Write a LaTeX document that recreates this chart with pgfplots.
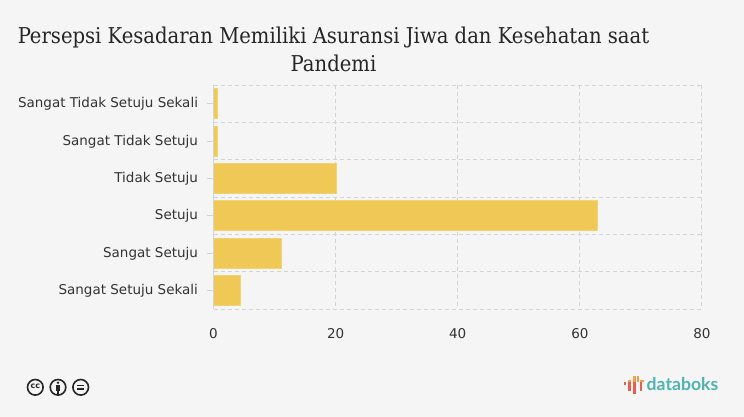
\documentclass[border=0pt]{standalone}
\usepackage{fontspec}
\usepackage{pgfplots}
\pgfplotsset{compat=1.18}
\setmainfont{DejaVu Sans}
\newfontfamily\titlefont{DejaVu Serif Condensed}
\newfontfamily\logofont{Lato}
\definecolor{bgc}{HTML}{F5F5F5}
\definecolor{barc}{HTML}{F0C855}
\definecolor{gridc}{HTML}{D4D4D4}
\definecolor{txtc}{HTML}{333333}
\definecolor{teal}{HTML}{4FB3AE}
\definecolor{logored}{HTML}{E5604F}
\definecolor{logoorg}{HTML}{F0A050}
\begin{document}
\begin{tikzpicture}[x=1pt,y=1pt]
\path[use as bounding box,fill=bgc] (0,0) rectangle (744,417);
\begin{axis}[
  at={(213.5pt,108pt)},anchor=south west,
  scale only axis,
  width=488.5pt,height=224pt,
  xmin=0,xmax=80,
  ymin=-0.5,ymax=5.5,
  y dir=reverse,
  xtick={0,20,40,60,80},
  ytick={0,1,2,3,4,5},
  yticklabels={Sangat Tidak Setuju Sekali,Sangat Tidak Setuju,Tidak Setuju,Setuju,Sangat Setuju,Sangat Setuju Sekali},
  minor ytick={-0.5,0.5,1.5,2.5,3.5,4.5,5.5},
  xmajorgrids,yminorgrids,
  grid style={gridc,line width=1pt,dash pattern=on 4pt off 3pt},
  minor grid style={gridc,line width=1pt,dash pattern=on 4pt off 3pt},
  axis line style={draw=none},
  major x tick style={draw=none},
  minor tick length=0pt,
  major y tick style={gridc,line width=0.9pt},
  tick align=outside,
  tick pos=left,
  major tick length=7pt,
  ticklabel style={font=\fontsize{13.5}{15}\selectfont,text=txtc},
  y tick label style={xshift=-5pt,yshift=-0.5pt},
  x tick label style={yshift=-9pt},
  /pgf/number format/assume math mode=true,
  xbar,bar width=30pt,
  clip=false,
]
\addplot[fill=barc,draw=barc!80!white,line width=0.5pt] coordinates {
  (0.6,0) (0.6,1) (20.15,2) (62.9,3) (11.1,4) (4.4,5)
};
\draw[gridc,line width=0.9pt] (axis cs:0,-0.5) -- (axis cs:0,5.5);
\end{axis}
% title
\node[font=\titlefont\fontsize{21.8}{28}\selectfont,text=black!85,align=center,anchor=center] at (333.5,367.5) {Persepsi Kesadaran Memiliki Asuransi Jiwa dan Kesehatan saat\\Pandemi};
% licence icons
\foreach \cx in {35.3,58,80.7}{\draw[black!85,line width=1.6pt] (\cx,29.7) circle (7.8);}
\node[font=\fontsize{8}{8}\selectfont\bfseries,text=black!85,inner sep=0] at (35.3,30.2) {cc};
\fill[black!85] (58,34.3) circle (1.4);
\fill[black!85] (55.8,25.5) rectangle (60.2,32.3);
\fill[black!85] (56.9,22.5) rectangle (59.1,26);
\fill[black!85] (77,30.8) rectangle (84.4,32.4);
\fill[black!85] (77,27) rectangle (84.4,28.6);
% databoks logo
\node[font=\logofont\bfseries\fontsize{17.6}{20}\selectfont,text=teal,anchor=base west,inner sep=0] at (646.5,26) {databoks};
\fill[logored] (624,32) rectangle (626,35);
\fill[logored] (628,26) rectangle (630.7,35);
\fill[logoorg] (628,35) rectangle (630.7,37);
\fill[logored] (633,23) rectangle (636,35);
\fill[logoorg] (633,35) rectangle (636,41);
\fill[logoorg] (637,35) rectangle (639,40.5);
\fill[logored] (639.5,26) rectangle (641.5,35);
\fill[logoorg] (639.5,35) rectangle (641.5,37);
\fill[logoorg] (642,35) rectangle (644,37);
\end{tikzpicture}
\end{document}
